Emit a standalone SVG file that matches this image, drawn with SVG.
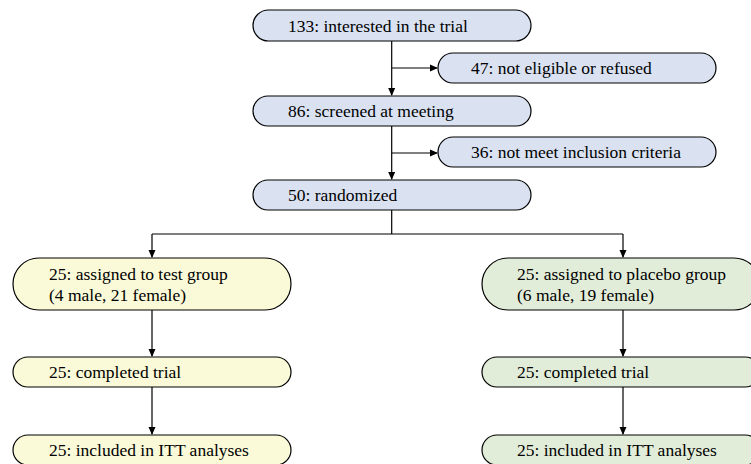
<svg xmlns="http://www.w3.org/2000/svg" width="751" height="464" viewBox="0 0 751 464">
<style>
.b{stroke:#000;stroke-width:1.2}
.blue{fill:#dae2f2}
.yel{fill:#fafad8}
.grn{fill:#e2edd9}
text{font-family:"Liberation Serif","Times New Roman",serif;font-size:17.5px;fill:#000}
.c{fill:none;stroke:#000;stroke-width:1.2}
</style>
<defs>
<marker id="a" markerWidth="8" markerHeight="8" refX="7" refY="4" orient="auto" markerUnits="userSpaceOnUse">
<path d="M0,0.5 L8,4 L0,7.5 Z" fill="#000"/>
</marker>
</defs>
<g id="connectors">
<path class="c" d="M391.7,41 V95" marker-end="url(#a)"/>
<path class="c" d="M391.7,68 H437" marker-end="url(#a)"/>
<path class="c" d="M391.7,126 V179" marker-end="url(#a)"/>
<path class="c" d="M391.7,153 H437" marker-end="url(#a)"/>
<path class="c" d="M391.7,210 V234 M152,234 H623"/>
<path class="c" d="M152,234 V257" marker-end="url(#a)"/>
<path class="c" d="M623,234 V257" marker-end="url(#a)"/>
<path class="c" d="M152,310 V356" marker-end="url(#a)"/>
<path class="c" d="M152,387 V434" marker-end="url(#a)"/>
<path class="c" d="M623,310 V356" marker-end="url(#a)"/>
<path class="c" d="M623,387 V434" marker-end="url(#a)"/>
</g>
<g id="n133"><rect class="b blue" x="253" y="10" width="278" height="31" rx="15.5"/><text x="288" y="31.5">133: interested in the trial</text></g>
<g id="n47"><rect class="b blue" x="438" y="53" width="278" height="30" rx="15"/><text x="471" y="74">47: not eligible or refused</text></g>
<g id="n86"><rect class="b blue" x="253" y="96" width="278" height="30" rx="15"/><text x="288" y="117">86: screened at meeting</text></g>
<g id="n36"><rect class="b blue" x="438" y="137" width="278" height="30" rx="15"/><text x="471" y="158">36: not meet inclusion criteria</text></g>
<g id="n50"><rect class="b blue" x="253" y="180" width="278" height="30" rx="15"/><text x="288" y="201">50: randomized</text></g>
<g id="test"><rect class="b yel" x="13" y="258" width="278" height="52" rx="26"/><text x="49" y="280">25: assigned to test group</text><text x="49" y="301">(4 male, 21 female)</text></g>
<g id="testdone"><rect class="b yel" x="13" y="357" width="278" height="30" rx="15"/><text x="49" y="378">25: completed trial</text></g>
<g id="testitt"><rect class="b yel" x="13" y="435" width="278" height="30" rx="15"/><text x="49" y="456">25: included in ITT analyses</text></g>
<g id="plac"><rect class="b grn" x="482" y="258" width="278" height="52" rx="26"/><text x="517" y="280">25: assigned to placebo group</text><text x="517" y="301">(6 male, 19 female)</text></g>
<g id="placdone"><rect class="b grn" x="482" y="357" width="278" height="30" rx="15"/><text x="517" y="378">25: completed trial</text></g>
<g id="placitt"><rect class="b grn" x="482" y="435" width="278" height="30" rx="15"/><text x="517" y="456">25: included in ITT analyses</text></g>
</svg>
